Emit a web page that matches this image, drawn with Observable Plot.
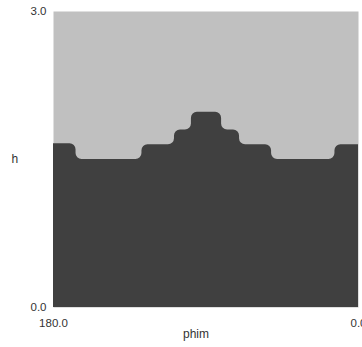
<!DOCTYPE html>
<html>
<head>
<meta charset="utf-8">
<script src="https://cdn.jsdelivr.net/npm/d3@7"></script>
<script src="https://cdn.jsdelivr.net/npm/@observablehq/plot@0.6"></script>
<style>
  body { margin: 0; background: #fff; }
</style>
</head>
<body>
<div id="chart"></div>
<script>
// Boundary between the two regions: phim (start of each step) and h level
const phim = [180, 166.7, 127.8, 108.6, 98.6, 80.8, 70.2, 51.3, 13.9, 0];
const h    = [1.66, 1.50, 1.65, 1.80, 1.98, 1.80, 1.65, 1.50, 1.65, 1.65];
const xTicks = [180, 0];
const yTicks = [0, 3];

const rows = phim.map((p, i) => ({phim: p, h: h[i]}));

// step-after curve with rounded corners
function roundedStepAfter(context) {
  const R = 6;
  let pts = [], line = NaN;
  return {
    areaStart() { line = 0; },
    areaEnd() { line = NaN; },
    lineStart() { pts = []; },
    point(x, y) { pts.push([+x, +y]); },
    lineEnd() {
      const v = [];
      const add = (p) => {
        const l = v[v.length - 1];
        if (!l || Math.abs(l[0] - p[0]) > 1e-9 || Math.abs(l[1] - p[1]) > 1e-9) v.push(p);
      };
      pts.forEach((p, i) => { if (i > 0) add([p[0], pts[i - 1][1]]); add(p); });
      const w = v.filter((p, i) => i === 0 || i === v.length - 1 ||
        !((v[i - 1][0] === p[0] && p[0] === v[i + 1][0]) || (v[i - 1][1] === p[1] && p[1] === v[i + 1][1])));
      if (w.length) {
        if (line) context.lineTo(w[0][0], w[0][1]); else context.moveTo(w[0][0], w[0][1]);
        for (let i = 1; i < w.length - 1; i++) {
          const a = w[i - 1], b = w[i], c = w[i + 1];
          const r = Math.min(R, Math.hypot(b[0] - a[0], b[1] - a[1]) / 2, Math.hypot(c[0] - b[0], c[1] - b[1]) / 2);
          context.arcTo(b[0], b[1], c[0], c[1], r);
        }
        if (w.length > 1) context.lineTo(w[w.length - 1][0], w[w.length - 1][1]);
      }
      if (line || (line !== 0 && w.length === 1)) context.closePath();
      line = 1 - line;
    }
  };
}

const chart = Plot.plot({
  width: 362,
  height: 347,
  marginLeft: 53,
  marginRight: 4,
  marginTop: 11,
  marginBottom: 40,
  style: {fontFamily: "'Liberation Sans', Arial, sans-serif", fontSize: "11.5px", color: "#333", background: "#fff"},
  x: {domain: [180, 0], ticks: xTicks, tickFormat: d => d.toFixed(1), tickSize: 0, tickPadding: 11, label: null},
  y: {domain: [0, 3], ticks: yTicks, tickFormat: d => d.toFixed(1), tickSize: 0, tickPadding: 7, label: null},
  marks: [
    Plot.frame({fill: "#c0c0c0", stroke: "none"}),
    Plot.areaY(rows, {x: "phim", y: "h", fill: "#404040", curve: roundedStepAfter}),
    Plot.text(["h"], {text: d => d, frameAnchor: "left", dx: -42, fill: "#333", fontSize: 12}),
    Plot.text(["phim"], {text: d => d, frameAnchor: "bottom", dx: -10, dy: 30, fill: "#333", fontSize: 12})
  ]
});
document.getElementById("chart").appendChild(chart);
</script>
</body>
</html>
